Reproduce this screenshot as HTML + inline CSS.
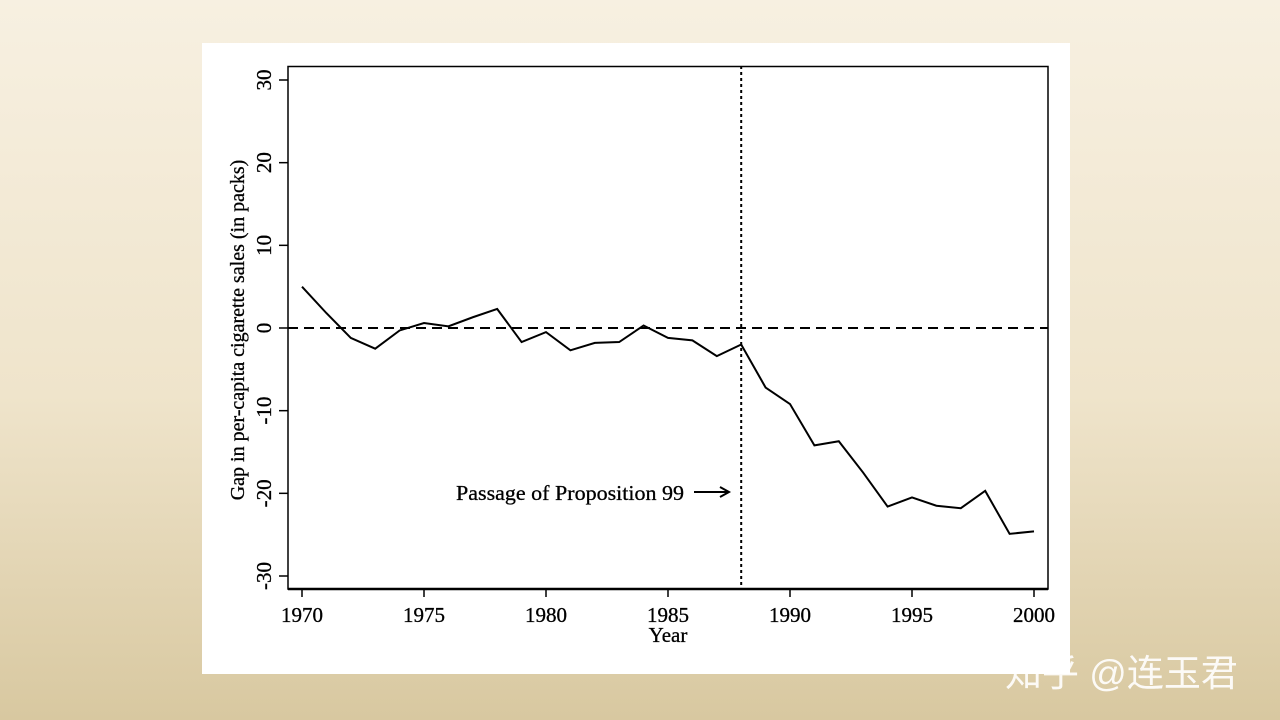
<!DOCTYPE html>
<html><head><meta charset="utf-8">
<style>
html,body{margin:0;padding:0;width:1280px;height:720px;overflow:hidden;
background:linear-gradient(to bottom,#f7f0e1 0%,#efe4cb 55%,#d8c8a0 100%);
font-family:"Liberation Serif",serif;}
#panel{position:absolute;left:202px;top:43px;width:868px;height:631px;background:#fff;}
#wm{position:absolute;left:1005px;top:643px;font-family:"Liberation Sans","Noto Sans CJK SC",sans-serif;font-size:37px;color:rgba(255,255,255,0.9);}
</style></head><body>
<div id="panel"></div>
<svg id="chart" width="1280" height="720" style="position:absolute;left:0;top:0"></svg>
<div id="wm">知乎 @连玉君</div>
<script>
const years=[1970,1971,1972,1973,1974,1975,1976,1977,1978,1979,1980,1981,1982,1983,1984,1985,1986,1987,1988,1989,1990,1991,1992,1993,1994,1995,1996,1997,1998,1999,2000];
const gap=[5,1.8,-1.2,-2.5,-0.3,0.6,0.2,1.3,2.3,-1.7,-0.5,-2.7,-1.8,-1.7,0.3,-1.2,-1.5,-3.4,-2.0,-7.2,-9.2,-14.2,-13.7,-17.5,-21.6,-20.5,-21.5,-21.8,-19.7,-24.9,-24.6];
const xTicks=[1970,1975,1980,1985,1990,1995,2000];
const yTicks=[-30,-20,-10,0,10,20,30];
const treatYear=1988;
const svg=document.getElementById('chart');
const NS='http://www.w3.org/2000/svg';
const X=v=>302+(v-1970)*(1034-302)/30;
const Y=v=>328-v*(328-80)/30;
function mk(t,a){const e=document.createElementNS(NS,t);for(const k in a)e.setAttribute(k,a[k]);svg.appendChild(e);return e;}
let f=mk('rect',{x:288,y:66.5,width:760,height:522.5,fill:'none',stroke:'#000','stroke-width':1.5});


let b=mk('line',{x1:288,x2:1048,y1:589,y2:589,stroke:'#000','stroke-width':2.5});


xTicks.forEach(t=>{
 const l=mk('line',{x1:X(t),x2:X(t),y1:589,y2:597,stroke:'#000','stroke-width':1.5});
 
 
 const tx=mk('text',{x:X(t),y:622,'text-anchor':'middle','font-size':21,stroke:'#000','stroke-width':0.3});
 tx.textContent=t;
 
 
});
yTicks.forEach(t=>{
 const l=mk('line',{x1:279,x2:288,y1:Y(t),y2:Y(t),stroke:'#000','stroke-width':1.5});
 
 
 const tx=mk('text',{x:0,y:0,'text-anchor':'middle','font-size':21,stroke:'#000','stroke-width':0.3,transform:`translate(271,${Y(t)}) rotate(-90)`});
 tx.textContent=t;
 
 
});
let xt=mk('text',{x:668,y:642,'text-anchor':'middle','font-size':21,stroke:'#000','stroke-width':0.3});xt.textContent='Year';


let yt=mk('text',{x:0,y:0,'text-anchor':'middle','font-size':20,stroke:'#000','stroke-width':0.3,transform:'translate(244,330) rotate(-90)'});yt.textContent='Gap in per-capita cigarette sales (in packs)';


let z=mk('line',{x1:288,x2:1048,y1:Y(0),y2:Y(0),stroke:'#000','stroke-width':2,'stroke-dasharray':'10,6'});


let v=mk('line',{x1:X(treatYear),x2:X(treatYear),y1:66,y2:589,stroke:'#000','stroke-width':2,'stroke-dasharray':'3,3'});


let p=mk('polyline',{points:years.map((y,i)=>X(y)+','+Y(gap[i])).join(' '),fill:'none',stroke:'#000','stroke-width':2});


let a=mk('text',{x:456,y:500,'font-size':21,stroke:'#000','stroke-width':0.3,textLength:228,lengthAdjust:'spacingAndGlyphs'});a.textContent='Passage of Proposition 99';


let ar=mk('path',{d:'M694,492 L728,492 M720,487 L729,492 L720,497',fill:'none',stroke:'#000','stroke-width':2});


</script>
</body></html>
